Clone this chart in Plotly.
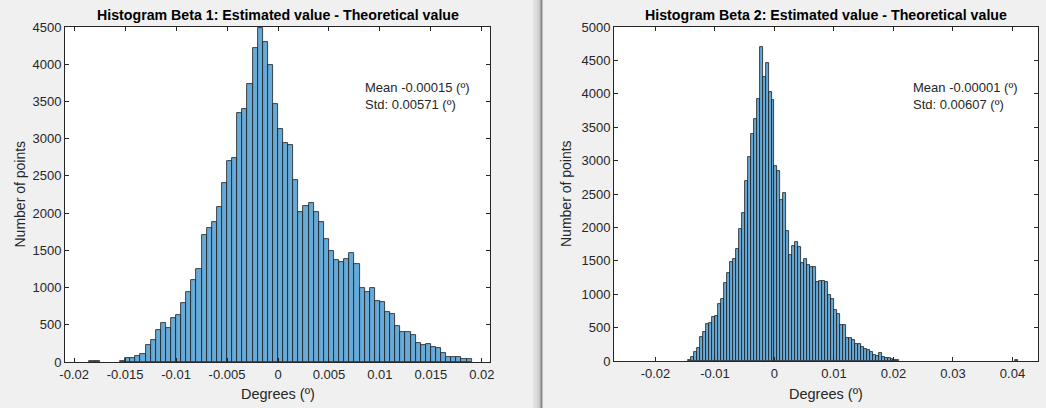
import plotly.graph_objects as go

W, H = 1046, 408
FONT = "Liberation Sans, Arial, sans-serif"
TXT = "#262626"
BAR_FILL = "#66AAD7"
BAR_EDGE = "#1c1c1c"

# ---------------- data ----------------
BIN_WIDTH = 0.0005

# Beta 1 histogram (bins start at -0.0155)
beta1_first_edge = -0.0155
beta1_counts = [10, 58, 58, 76, 112, 223, 299, 433, 518, 455, 594, 634, 786, 937, 1107,
                1250, 1705, 1795, 1884, 2076, 2402, 2696, 2745, 3350, 3395, 3729, 4213,
                4481, 4303, 3990, 3470, 3125, 2937, 2910, 2442, 2009, 2094, 2134, 2018,
                1875, 1652, 1486, 1366, 1348, 1379, 1464, 1317, 991, 937, 1000, 821, 812,
                674, 647, 487, 406, 406, 362, 259, 223, 241, 205, 192, 121, 71, 62, 62,
                36, 45]
beta1_outlier_edges = [-0.0185, -0.018]
beta1_outlier_counts = [12, 12]

# Beta 2 histogram (bins start at -0.0145)
beta2_first_edge = -0.0145
beta2_counts = [15, 65, 130, 190, 365, 440, 549, 564, 654, 679, 858, 923, 1173, 1312,
                1487, 1532, 1682, 1976, 2211, 2695, 3049, 3398, 3618, 3922, 4695, 4246,
                4456, 4027, 3907, 2924, 2844, 2410, 2510, 1946, 1587, 1722, 1776, 1707,
                1472, 1527, 1437, 1412, 1412, 1178, 1193, 1203, 1180, 983, 923, 763, 704,
                539, 539, 349, 339, 314, 254, 249, 205, 180, 165, 130, 90, 75, 115, 55,
                40, 40, 30, 10, 8]
beta2_outlier_edges = [0.0405]
beta2_outlier_counts = [20]

beta1_xticks = [-0.02, -0.015, -0.01, -0.005, 0, 0.005, 0.01, 0.015, 0.02]
beta1_xticklabels = ["-0.02", "-0.015", "-0.01", "-0.005", "0", "0.005", "0.01", "0.015", "0.02"]
beta2_xticks = [-0.02, -0.01, 0, 0.01, 0.02, 0.03, 0.04]
beta2_xticklabels = ["-0.02", "-0.01", "0", "0.01", "0.02", "0.03", "0.04"]

title1 = "Histogram Beta 1: Estimated value - Theoretical value"
title2 = "Histogram Beta 2: Estimated value - Theoretical value"
stats1 = ["Mean -0.00015 (º)", "Std: 0.00571 (º)"]
stats2 = ["Mean -0.00001 (º)", "Std: 0.00607 (º)"]
ylabel = "Number of points"
xlabel = "Degrees (º)"


def centers(first_edge, n):
    return [first_edge + BIN_WIDTH * (i + 0.5) for i in range(n)]


def px_x(p):
    return p / W


def px_y(p):
    return 1 - p / H


fig = go.Figure()

bar_style = dict(marker=dict(color=BAR_FILL, line=dict(color=BAR_EDGE, width=0.8)),
                 width=BIN_WIDTH, showlegend=False, hoverinfo="x+y")

fig.add_trace(go.Bar(x=centers(beta1_first_edge, len(beta1_counts)), y=beta1_counts,
                     xaxis="x", yaxis="y", **bar_style))
fig.add_trace(go.Bar(x=[e + BIN_WIDTH / 2 for e in beta1_outlier_edges], y=beta1_outlier_counts,
                     xaxis="x", yaxis="y", **bar_style))
fig.add_trace(go.Bar(x=centers(beta2_first_edge, len(beta2_counts)), y=beta2_counts,
                     xaxis="x2", yaxis="y2", **bar_style))
fig.add_trace(go.Bar(x=[e + BIN_WIDTH / 2 for e in beta2_outlier_edges], y=beta2_outlier_counts,
                     xaxis="x2", yaxis="y2", **bar_style))

# axes geometry (pixels)
L1, R1, T1, B1 = 65, 490, 27, 362
L2, R2, T2, B2 = 614, 1038, 27, 361

axis_common = dict(showline=True, linecolor=TXT, linewidth=1, mirror="ticks",
                   ticks="inside", ticklen=4, tickcolor=TXT, tickwidth=1,
                   showgrid=False, zeroline=False, automargin=False,
                   tickfont=dict(family=FONT, size=13, color=TXT))

fig.update_layout(
    template="none",
    width=W, height=H, autosize=False,
    margin=dict(l=0, r=0, t=0, b=0, pad=0),
    paper_bgcolor="#f0f0f0",
    plot_bgcolor="#ffffff",
    bargap=0, barmode="overlay",
    xaxis=dict(domain=[px_x(L1), px_x(R1)], range=[-0.0209, 0.0208], anchor="y",
               tickvals=beta1_xticks, ticktext=beta1_xticklabels, **axis_common),
    yaxis=dict(domain=[px_y(B1), px_y(T1)], range=[0, 4500], anchor="x",
               tickvals=list(range(0, 4501, 500)), **axis_common),
    xaxis2=dict(domain=[px_x(L2), px_x(R2)], range=[-0.02697, 0.04429], anchor="y2",
                tickvals=beta2_xticks, ticktext=beta2_xticklabels, **axis_common),
    yaxis2=dict(domain=[px_y(B2), px_y(T2)], range=[0, 5000], anchor="x2",
                tickvals=list(range(0, 5001, 500)), **axis_common),
)

ann = []


def add_text(text, x, y, size=13, bold=False, xanchor="center", angle=0):
    ann.append(dict(text=f"<b>{text}</b>" if bold else text, x=px_x(x), y=px_y(y),
                    xref="paper", yref="paper", showarrow=False, xanchor=xanchor,
                    yanchor="middle", textangle=angle,
                    font=dict(family=FONT, size=size, color="#000000" if bold else TXT)))


add_text(title1, (L1 + R1) / 2, 15, size=14.2, bold=True)
add_text(title2, (L2 + R2) / 2, 15, size=14.2, bold=True)
add_text(stats1[0], 363, 87, size=13, xanchor="left")
add_text(stats1[1], 363, 104, size=13, xanchor="left")
add_text(stats2[0], 911, 87, size=13, xanchor="left")
add_text(stats2[1], 911, 104, size=13, xanchor="left")
add_text(ylabel, 19, (T1 + B1) / 2, size=14, angle=-90)
add_text(ylabel, 566, (T2 + B2) / 2, size=14, angle=-90)
add_text(xlabel, (L1 + R1) / 2, 394, size=14.5)
add_text(xlabel, (L2 + R2) / 2, 394, size=14.5)
fig.update_layout(annotations=ann)

# window divider with slight shadow
shapes = []
for i, op in enumerate([0.05, 0.08, 0.12, 0.18]):
    x0 = 533 + i * 2
    shapes.append(dict(type="rect", xref="paper", yref="paper", x0=px_x(x0), x1=px_x(x0 + 2),
                       y0=0, y1=1, fillcolor="#000000", opacity=op, line=dict(width=0), layer="below"))
shapes.append(dict(type="line", xref="paper", yref="paper", x0=px_x(541.5), x1=px_x(541.5),
                   y0=0, y1=1, line=dict(color="#8a8a8a", width=2)))
fig.update_layout(shapes=shapes)

fig.write_html("out.html")
